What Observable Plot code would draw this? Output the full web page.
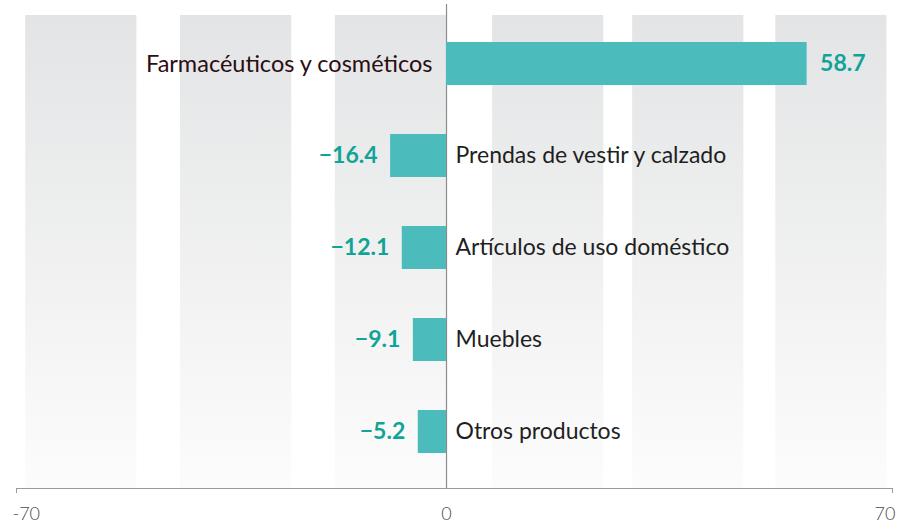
<!DOCTYPE html>
<html>
<head>
<meta charset="utf-8">
<script src="https://cdn.jsdelivr.net/npm/d3@7"></script>
<script src="https://cdn.jsdelivr.net/npm/@observablehq/plot@0.6"></script>
<style>
  html, body { margin: 0; padding: 0; background: #ffffff; }
  #chart svg { display: block; }
</style>
</head>
<body>
<div id="chart"></div>
<script>
// ---- Data ----
const categories = [
  "Farmacéuticos y cosméticos",
  "Prendas de vestir y calzado",
  "Artículos de uso doméstico",
  "Muebles",
  "Otros productos"
];
// values as labelled in the reference
const values = [58.7, -16.4, -12.1, -9.1, -5.2];
// bar lengths as drawn in the reference (its negative bars are not drawn to the labelled scale)
const barValues = [58.7, -9.1, -7.2, -5.4, -4.6];
const xDomain = [-70, 72.6];
const xTickLabels = ["-70", "0", "70"];
const bandStarts = [-68.5, -43.3, -18.1, 7.5, 30.3, 53.6];
const bandWidth = 18.1;

const data = categories.map((c, i) => ({category: c, value: values[i], bar: barValues[i]}));
const pos = data.filter(d => d.value >= 0);
const neg = data.filter(d => d.value < 0);
const fmt = d3.format(".1f");
const tickPositions = [xDomain[0], 0, xDomain[1]];
const tickAnchors = ["start", "middle", "end"];
const tickDx = [-4, 0, 3];

const teal = "#4bbbbc";
const tealText = "#10a497";

const chart = Plot.plot({
  width: 898,
  height: 525,
  marginTop: 4,
  marginBottom: 37,
  marginLeft: 16,
  marginRight: 6,
  style: {fontFamily: "Lato, 'Open Sans', sans-serif", background: "#ffffff"},
  x: {domain: xDomain, axis: null, label: null},
  y: {domain: categories, axis: null, insetTop: 16, insetBottom: 13, paddingInner: 0.534, paddingOuter: 0.232},
  marks: [
    Plot.rect(bandStarts, {x1: d => d, x2: d => d + bandWidth, fill: "url(#bandGrad)", insetTop: 11}),
    Plot.ruleX([0], {stroke: "#8c8c8c", strokeWidth: 1.2}),
    Plot.barX(data, {x: "bar", y: "category", fill: teal}),
    Plot.frame({anchor: "bottom", stroke: "#9a9a9a", strokeWidth: 1.2}),
    Plot.axisX({ticks: [xDomain[0], xDomain[1]], tickSize: 5, tickFormat: () => "", label: null, stroke: "#9a9a9a"}),
    ...tickPositions.map((p, i) => Plot.text([p], {
      x: d => d, text: () => xTickLabels[i], frameAnchor: "bottom", dy: 31, dx: tickDx[i],
      textAnchor: tickAnchors[i], fontSize: 18, fontWeight: 300, fill: "#4a4a4a"
    })),
    // category labels
    Plot.text(pos, {x: 0, y: "category", text: "category", textAnchor: "end", dx: -14, fontSize: 23.5, fill: "#2b0d12"}),
    Plot.text(neg, {x: 0, y: "category", text: "category", textAnchor: "start", dx: 9, fontSize: 23, fill: "#1f1f1f"}),
    // value labels
    Plot.text(pos, {x: "bar", y: "category", text: d => fmt(d.value), textAnchor: "start", dx: 13, fontSize: 23, fontWeight: 700, fill: tealText}),
    Plot.text(neg, {x: "bar", y: "category", text: d => fmt(d.value), textAnchor: "end", dx: -13, fontSize: 23, fontWeight: 700, fill: tealText})
  ]
});

const svg = d3.select(chart);
const grad = svg.insert("defs", ":first-child")
  .append("linearGradient")
  .attr("id", "bandGrad")
  .attr("x1", 0).attr("y1", 0).attr("x2", 0).attr("y2", 1);
grad.append("stop").attr("offset", "0%").attr("stop-color", "#e3e4e5");
grad.append("stop").attr("offset", "100%").attr("stop-color", "#fcfcfc");

document.getElementById("chart").appendChild(chart);
</script>
</body>
</html>
